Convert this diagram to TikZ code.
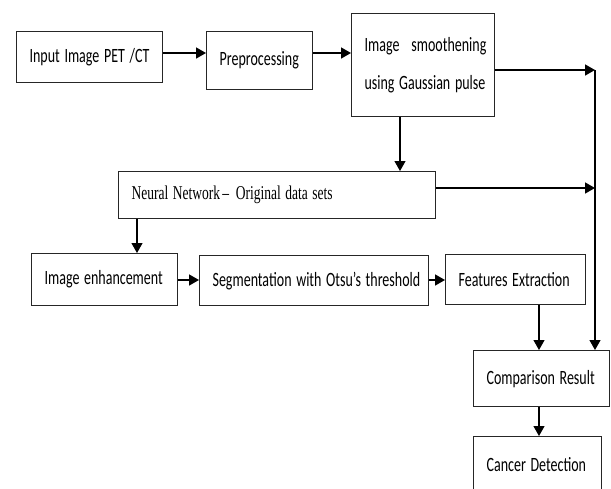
\documentclass[tikz,border=0pt]{standalone}
\usepackage{fontspec}
\setmainfont{Carlito}
\newfontfamily\nnfont{Liberation Serif}
\usetikzlibrary{arrows.meta}
\newcommand\sy[1]{\scalebox{1}[1.45]{#1}}
\tikzset{
  box/.style={draw=black!85, line width=1.2pt, anchor=north west, inner xsep=13pt, inner ysep=0pt, align=left,
    font=\fontsize{14}{16}\selectfont},
  arr/.style={line width=1.6pt, -{Triangle[length=10pt,width=11pt]}},
  thinarr/.style={arr, line width=1.2pt}
}
\begin{document}
\begin{tikzpicture}[x=1pt,y=-1pt]
\useasboundingbox (0,0) rectangle (611,488);
\clip (0,0) rectangle (611,488);
% boxes
\node[box, text width=120pt, minimum height=51pt] (in) at (16,31) {\sy{Input Image PET /CT}};
\node[box, text width=80pt, minimum height=58pt] (pre) at (206,31) {\sy{Preprocessing}};
\node[box, text width=117pt, minimum height=103pt] (sm) at (351,13) {\sy{Image\hspace{12pt}smoothening}\\[20pt]\sy{using Gaussian pulse}};
\node[box, text width=291pt, minimum height=47pt, font=\nnfont\fontsize{13.5}{16}\selectfont] (nn) at (118,171) {\sy{Neural Network\,–\, Original data sets}};
\node[box, text width=120pt, minimum height=52pt] (enh) at (31,253) {\sy{Image enhancement}};
\node[box, text width=203pt, minimum height=50pt] (seg) at (199,255) {\sy{Segmentation with Otsu’s threshold}};
\node[box, text width=114pt, minimum height=50pt] (feat) at (445,254) {\sy{Features Extraction}};
\node[box, text width=110pt, minimum height=56pt] (comp) at (473,350) {\sy{Comparison Result}};
\node[box, text width=102pt, minimum height=56pt] (canc) at (473,436) {\sy{Cancer Detection}};
% junction coordinates
\coordinate (j1) at (595,70);
\coordinate (j2) at (595,188);
% connectors
\draw[arr] (in.east |- 0,53) -- (pre.west |- 0,53);
\draw[arr] (pre.east |- 0,53) -- (sm.west |- 0,53);
\draw[arr] (sm.east |- j1) -- (j1);
\draw[arr] (nn.east |- j2) -- (j2);
\draw[thinarr] (j1) -- (j1 |- comp.north);
\draw[thinarr] (sm.south -| 400,0) -- (nn.north -| 400,0);
\draw[thinarr] (nn.south -| 137,0) -- (enh.north -| 137,0);
\draw[arr] (enh.east |- 0,280) -- (seg.west |- 0,280);
\draw[arr] (seg.east |- 0,280) -- (feat.west |- 0,280);
\draw[thinarr] (feat.south -| 539,0) -- (comp.north -| 539,0);
\draw[thinarr] (comp.south -| 539,0) -- (canc.north -| 539,0);
\end{tikzpicture}
\end{document}
